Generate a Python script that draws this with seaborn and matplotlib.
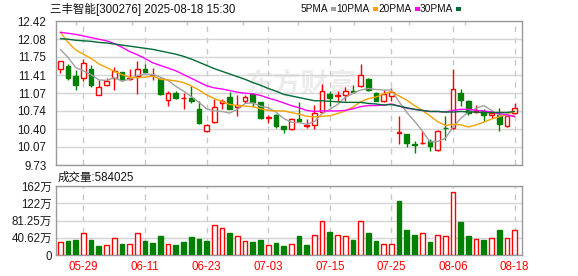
import numpy as np
import pandas as pd
import matplotlib
matplotlib.use("Agg")
import matplotlib.pyplot as plt
import seaborn as sns
from matplotlib.patches import Rectangle

# ---------------- data ----------------
title = "三丰智能[300276] 2025-08-18 15:30"
volume_label = "成交量:584025"
date_labels = ["05-29", "06-11", "06-23", "07-03", "07-15", "07-25", "08-06", "08-18"]
date_index = [3, 11, 19, 27, 35, 43, 51, 59]

opens = [11.53, 11.58, 11.39, 11.36, 11.52, 11.04, 11.22, 11.35, 11.46, 11.34,
         11.39, 11.53, 11.41, 11.33, 10.94, 11.08, 10.98, 10.99, 10.78, 10.37,
         10.53, 10.89, 11.00, 10.81, 10.92, 11.05, 10.90, 10.61, 10.67, 10.45,
         10.40, 10.58, 10.46, 10.48, 10.72, 11.05, 11.02, 11.03, 11.11, 11.20,
         11.33, 11.08, 10.93, 11.02, 10.33, 10.30, 10.12, 10.14, 10.17, 10.01,
         10.43, 10.43, 11.07, 10.92, 10.72, 10.73, 10.66, 10.67, 10.45, 10.70]
highs = [11.68, 11.61, 11.50, 11.71, 11.59, 11.32, 11.36, 11.56, 11.47, 11.53,
         11.67, 11.61, 11.55, 11.36, 11.12, 11.12, 11.08, 11.20, 10.93, 10.50,
         10.97, 10.97, 11.09, 11.03, 11.03, 11.08, 10.91, 10.67, 10.68, 10.46,
         10.61, 10.90, 10.58, 10.86, 11.25, 11.12, 11.11, 11.19, 11.23, 11.61,
         11.36, 11.09, 11.14, 11.16, 10.65, 10.31, 10.17, 10.36, 10.21, 10.39,
         10.65, 11.52, 11.15, 10.94, 10.86, 10.77, 10.73, 10.80, 10.66, 10.88]
lows = [11.44, 11.32, 11.13, 11.30, 11.19, 11.04, 11.21, 11.13, 11.30, 11.32,
        11.06, 11.44, 11.32, 11.03, 10.83, 10.97, 10.77, 10.88, 10.50, 10.35,
        10.52, 10.77, 10.77, 10.64, 10.88, 10.82, 10.58, 10.52, 10.43, 10.33,
        10.39, 10.55, 10.43, 10.40, 10.70, 10.84, 10.93, 10.93, 11.08, 11.19,
        11.11, 10.92, 10.91, 10.92, 10.12, 10.06, 9.96, 10.12, 10.00, 10.00,
        10.19, 10.41, 10.84, 10.67, 10.70, 10.55, 10.61, 10.36, 10.44, 10.69]
closes = [11.67, 11.35, 11.22, 11.63, 11.22, 11.19, 11.29, 11.49, 11.32, 11.36,
          11.53, 11.47, 11.42, 11.05, 11.08, 10.99, 10.99, 10.92, 10.52, 10.47,
          10.82, 10.93, 10.78, 10.85, 11.00, 10.90, 10.61, 10.62, 10.45, 10.40,
          10.58, 10.56, 10.47, 10.71, 11.12, 10.99, 11.03, 11.12, 11.10, 11.42,
          11.14, 10.93, 11.05, 11.10, 10.34, 10.14, 10.10, 10.15, 10.09, 10.37,
          10.42, 11.15, 10.95, 10.70, 10.73, 10.66, 10.71, 10.50, 10.65, 10.80]

ma5 = [11.89, 11.74, 11.55, 11.49, 11.42, 11.32, 11.31, 11.36, 11.30, 11.33,
       11.40, 11.43, 11.42, 11.37, 11.31, 11.20, 11.11, 11.01, 10.90, 10.78,
       10.74, 10.73, 10.70, 10.77, 10.88, 10.89, 10.83, 10.80, 10.72, 10.60,
       10.53, 10.52, 10.49, 10.54, 10.69, 10.77, 10.86, 10.99, 11.07, 11.13,
       11.16, 11.14, 11.13, 11.13, 10.91, 10.71, 10.55, 10.37, 10.16, 10.17,
       10.23, 10.44, 10.60, 10.72, 10.79, 10.84, 10.75, 10.66, 10.65, 10.66]
ma10 = [12.21, 12.02, 11.88, 11.80, 11.72, 11.62, 11.55, 11.48, 11.42, 11.37,
        11.36, 11.37, 11.39, 11.33, 11.32, 11.30, 11.27, 11.21, 11.13, 11.04,
        10.97, 10.92, 10.86, 10.84, 10.83, 10.82, 10.78, 10.75, 10.74, 10.74,
        10.71, 10.68, 10.64, 10.63, 10.64, 10.65, 10.69, 10.74, 10.81, 10.91,
        10.97, 11.00, 11.06, 11.10, 11.02, 10.94, 10.84, 10.75, 10.65, 10.54,
        10.47, 10.49, 10.48, 10.44, 10.48, 10.53, 10.59, 10.63, 10.68, 10.73]
ma20 = [12.21, 12.19, 12.17, 12.14, 12.11, 12.08, 12.05, 12.00, 11.93, 11.85,
        11.79, 11.72, 11.64, 11.59, 11.54, 11.49, 11.42, 11.35, 11.28, 11.21,
        11.17, 11.15, 11.12, 11.09, 11.07, 11.06, 11.03, 10.98, 10.94, 10.89,
        10.84, 10.80, 10.75, 10.73, 10.74, 10.74, 10.74, 10.75, 10.78, 10.82,
        10.84, 10.84, 10.85, 10.87, 10.83, 10.79, 10.77, 10.75, 10.73, 10.73,
        10.72, 10.75, 10.77, 10.77, 10.75, 10.74, 10.72, 10.69, 10.67, 10.63]
ma30 = [12.09, 12.08, 12.06, 12.05, 12.04, 12.02, 12.01, 11.99, 11.97, 11.95,
        11.93, 11.91, 11.89, 11.86, 11.83, 11.80, 11.76, 11.71, 11.65, 11.59,
        11.53, 11.48, 11.43, 11.38, 11.33, 11.27, 11.22, 11.16, 11.11, 11.05,
        11.02, 10.99, 10.96, 10.93, 10.93, 10.92, 10.91, 10.90, 10.90, 10.90,
        10.88, 10.87, 10.85, 10.86, 10.83, 10.80, 10.77, 10.75, 10.73, 10.73,
        10.72, 10.72, 10.73, 10.72, 10.72, 10.71, 10.71, 10.71, 10.71, 10.73]

volume_wan = [30.5, 33.6, 35.0, 51.0, 35.0, 21.0, 23.0, 41.0, 26.0, 27.0,
              51.0, 33.0, 28.0, 44.5, 25.0, 23.0, 30.5, 42.0, 37.5, 33.0,
              69.5, 62.5, 51.5, 44.0, 32.0, 30.5, 35.0, 23.0, 28.0, 21.0,
              27.0, 44.5, 23.5, 48.0, 81.0, 54.0, 48.0, 44.0, 35.0, 79.0,
              51.5, 33.0, 27.0, 27.0, 126.5, 58.5, 47.0, 51.0, 30.5, 46.0,
              44.0, 149.0, 77.0, 44.5, 37.0, 35.0, 39.0, 58.5, 41.0, 58.4]
volume_up = [1, 0, 0, 1, 0, 0, 1, 1, 0, 1,
             1, 0, 0, 0, 1, 0, 0, 0, 0, 0,
             1, 1, 0, 1, 1, 0, 0, 1, 0, 0,
             1, 0, 0, 1, 1, 0, 1, 1, 0, 1,
             0, 0, 1, 1, 0, 0, 0, 1, 0, 1,
             1, 1, 0, 0, 1, 0, 1, 0, 1, 1]

price_ticks = [12.42, 12.08, 11.75, 11.41, 11.07, 10.74, 10.40, 10.07, 9.73]
price_tick_labels = ["12.42", "12.08", "11.75", "11.41", "11.07", "10.74", "10.40", "10.07", "9.73"]
vol_ticks = [0, 40.625, 81.25, 121.875, 162.5]
vol_tick_labels = ["0", "40.62万", "81.25万", "122万", "162万"]
ma_names = ["5PMA", "10PMA", "20PMA", "30PMA"]

# ---------------- style ----------------
RED = "#ff0000"
GREEN = "#008000"
ma_colors = {"5PMA": "#a0a0a0", "10PMA": "#f5a300", "20PMA": "#ff00ff", "30PMA": "#006b36"}
GRID = "#d4d4d4"
BORDER = "#9a9a9a"

sns.set_style("white")
plt.rcParams["font.family"] = ["Liberation Sans", "Noto Sans CJK SC", "DejaVu Sans"]

W, H = 578, 276
fig = plt.figure(figsize=(W / 100, H / 100), dpi=100)
L, R = 56, 522
ax = fig.add_axes([L / W, (H - 165) / H, (R - L) / W, (165 - 21) / H])
axv = fig.add_axes([L / W, (H - 255) / H, (R - L) / W, (255 - 186) / H])

n = len(closes)
x = np.arange(n)
xlim = (-0.56, 59.96)

# ---------------- candles ----------------
o = np.array(opens); c = np.array(closes)
hi = np.array(highs); lo = np.array(lows)
up = c >= o
edge = [RED if u else GREEN for u in up]
face = ["white" if u else GREEN for u in up]
ax.vlines(x, lo, hi, colors=edge, linewidth=1, zorder=2)
body_bottom = np.minimum(o, c)
body_h = np.maximum(np.abs(c - o), 0.006)
ax.bar(x, body_h, bottom=body_bottom, width=0.62, color=face,
       edgecolor=edge, linewidth=1, zorder=3)

# ---------------- moving averages (seaborn) ----------------
ma_df = pd.DataFrame({
    "idx": np.tile(x, 4),
    "value": ma5 + ma10 + ma20 + ma30,
    "ma": np.repeat(ma_names, n),
})
sns.lineplot(data=ma_df, x="idx", y="value", hue="ma", hue_order=ma_names,
             palette=ma_colors, linewidth=1, legend=False, ax=ax, zorder=4)

# watermark
ax.text(0.525, 0.56, "东方财富", transform=ax.transAxes, fontsize=20,
        color="#ececec", ha="center", va="center", zorder=0.5,
        fontweight="bold", family=["Noto Sans CJK SC"])

ax.set_xlim(*xlim)
ax.set_ylim(9.73, 12.42)
ax.set_yticks(price_ticks)
ax.set_yticklabels(price_tick_labels)
ax.set_xticks(date_index)
ax.set_xticklabels([])
ax.set_xlabel(""); ax.set_ylabel("")
ax.grid(axis="y", color=GRID, linewidth=1, zorder=0)
ax.grid(axis="x", color="#c8c8c8", linewidth=1, linestyle=(0, (4, 4)), zorder=0)
ax.set_axisbelow(True)
ax.tick_params(axis="y", length=0, pad=7, labelsize=8.3, labelcolor="#1a1a1a")
ax.tick_params(axis="x", which="major", length=0)
top_marks = 2.04 + 7.21 * np.arange(8)
ax.set_xticks(top_marks, minor=True)
ax.tick_params(axis="x", which="minor", top=True, bottom=False, direction="in",
               length=3, width=1, color="#c8c8c8", labeltop=False, labelbottom=False)

# ---------------- volume ----------------
vol = np.array(volume_wan)
vup = np.array(volume_up, dtype=bool)
vedge = [RED if u else GREEN for u in vup]
vface = ["white" if u else GREEN for u in vup]
axv.bar(x, vol, width=0.62, color=vface, edgecolor=vedge, linewidth=1, zorder=3)
axv.set_xlim(*xlim)
axv.set_ylim(0, 162.5)
axv.set_yticks(vol_ticks)
axv.set_yticklabels(vol_tick_labels)
axv.set_xticks(date_index)
axv.set_xticklabels(date_labels)
axv.grid(axis="y", color=GRID, linewidth=1, zorder=0)
axv.grid(axis="x", color="#c8c8c8", linewidth=1, linestyle=(0, (4, 4)), zorder=0)
axv.set_axisbelow(True)
axv.tick_params(axis="y", length=0, pad=3, labelsize=8.3, labelcolor="#1a1a1a")
axv.tick_params(axis="x", length=0, pad=4, labelsize=8.3, labelcolor=RED)

for a in (ax, axv):
    for s in a.spines.values():
        s.set_visible(True)
        s.set_color(BORDER)
        s.set_linewidth(1)

# ---------------- texts ----------------
fig.text(50 / W, 1 - 9 / H, title, ha="left", va="center", fontsize=8.3, color="#111111")
fig.text(58 / W, 1 - 178 / H, volume_label, ha="left", va="center", fontsize=8.3, color="#111111")

legend_text_end = [328, 370, 412, 453]
for name, xe in zip(ma_names, legend_text_end):
    fig.text(xe / W, 1 - 9 / H, name, ha="right", va="center", fontsize=7.3, color="#111111")
    fig.patches.append(Rectangle(((xe + 3) / W, 1 - 10.5 / H), 5 / W, 3 / H,
                                 transform=fig.transFigure, facecolor=ma_colors[name],
                                 edgecolor="none"))

fig.savefig("out.png", dpi=100)
